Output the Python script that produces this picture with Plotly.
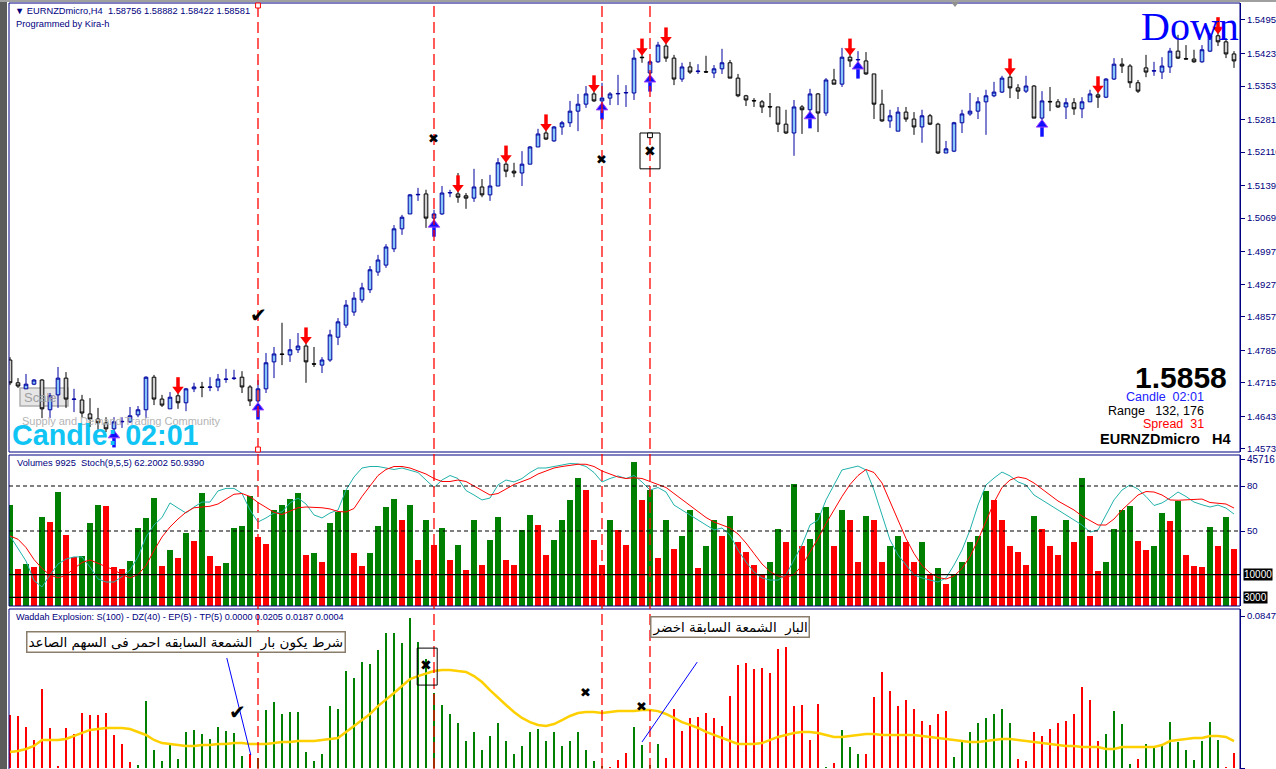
import plotly.graph_objects as go

W, H = 1276, 769

# ---------------- data ----------------
opens = [1.4764, 1.4715, 1.4702, 1.4712, 1.4721, 1.4657, 1.4689, 1.4725, 1.4679, 1.4678,
         1.4648, 1.4637, 1.4629, 1.4616, 1.4631, 1.4631, 1.4646, 1.4657, 1.4727, 1.4680,
         1.4659, 1.4687, 1.4672, 1.4702, 1.4706, 1.4705, 1.4706, 1.4722, 1.4724, 1.4727,
         1.4706, 1.4676, 1.4702, 1.4760, 1.4777, 1.4775, 1.4786, 1.4794, 1.4756, 1.4753,
         1.4764, 1.4813, 1.4839, 1.4867, 1.4893, 1.4915, 1.4953, 1.4968, 1.5003, 1.5046,
         1.5078, 1.5119, 1.5121, 1.5069, 1.5078, 1.5123, 1.5121, 1.5117, 1.5112, 1.5136,
         1.5119, 1.5138, 1.5185, 1.5170, 1.5166, 1.5185, 1.5222, 1.5252, 1.5235, 1.5265,
         1.5274, 1.5299, 1.5314, 1.5336, 1.5321, 1.5327, 1.5336, 1.5338, 1.5338, 1.5415,
         1.5381, 1.5405, 1.5439, 1.5413, 1.5368, 1.5394, 1.5384, 1.5384, 1.5381, 1.5390,
         1.5403, 1.5370, 1.5332, 1.5322, 1.5319, 1.5309, 1.5308, 1.5271, 1.5252, 1.5308,
         1.5302, 1.5336, 1.5295, 1.5366, 1.5357, 1.5415, 1.5409, 1.5407, 1.5379, 1.5314,
         1.5278, 1.5256, 1.5297, 1.5282, 1.5265, 1.5289, 1.5271, 1.5209, 1.5213, 1.5274,
         1.5293, 1.5299, 1.5319, 1.5332, 1.5340, 1.5372, 1.5349, 1.5342, 1.5353, 1.5284,
         1.5320, 1.5319, 1.5308, 1.5317, 1.5304, 1.5319, 1.5334, 1.5329, 1.5368, 1.5400,
         1.5396, 1.5360, 1.5392, 1.5385, 1.5383, 1.5394, 1.5428, 1.5412, 1.5411, 1.5405,
         1.5428, 1.5461, 1.5448, 1.5422]
highs = [1.4770, 1.4725, 1.4734, 1.4723, 1.4723, 1.4693, 1.4749, 1.4738, 1.4702, 1.4689,
         1.4682, 1.4661, 1.4641, 1.4641, 1.4641, 1.4663, 1.4665, 1.4729, 1.4732, 1.4689,
         1.4695, 1.4700, 1.4704, 1.4715, 1.4717, 1.4727, 1.4734, 1.4745, 1.4743, 1.4740,
         1.4710, 1.4721, 1.4779, 1.4792, 1.4844, 1.4809, 1.4822, 1.4809, 1.4792, 1.4770,
         1.4829, 1.4854, 1.4893, 1.4910, 1.4930, 1.4966, 1.4990, 1.5013, 1.5054, 1.5076,
         1.5121, 1.5134, 1.5130, 1.5087, 1.5138, 1.5130, 1.5166, 1.5123, 1.5175, 1.5153,
         1.5162, 1.5198, 1.5205, 1.5188, 1.5213, 1.5224, 1.5261, 1.5265, 1.5267, 1.5278,
         1.5321, 1.5336, 1.5353, 1.5360, 1.5360, 1.5340, 1.5377, 1.5355, 1.5431, 1.5452,
         1.5409, 1.5448, 1.5446, 1.5420, 1.5403, 1.5405, 1.5400, 1.5418, 1.5398, 1.5433,
         1.5409, 1.5379, 1.5334, 1.5327, 1.5323, 1.5338, 1.5308, 1.5302, 1.5323, 1.5312,
         1.5347, 1.5338, 1.5370, 1.5390, 1.5435, 1.5437, 1.5428, 1.5426, 1.5379, 1.5345,
         1.5302, 1.5308, 1.5308, 1.5297, 1.5302, 1.5293, 1.5274, 1.5235, 1.5276, 1.5302,
         1.5338, 1.5329, 1.5345, 1.5362, 1.5375, 1.5394, 1.5357, 1.5375, 1.5355, 1.5342,
         1.5351, 1.5325, 1.5327, 1.5327, 1.5329, 1.5345, 1.5351, 1.5370, 1.5413, 1.5413,
         1.5400, 1.5366, 1.5420, 1.5405, 1.5415, 1.5435, 1.5463, 1.5441, 1.5431, 1.5441,
         1.5467, 1.5480, 1.5456, 1.5428]
lows = [1.4710, 1.4704, 1.4702, 1.4710, 1.4639, 1.4639, 1.4661, 1.4661, 1.4652, 1.4639,
        1.4620, 1.4614, 1.4609, 1.4607, 1.4618, 1.4629, 1.4641, 1.4639, 1.4667, 1.4663,
        1.4659, 1.4659, 1.4654, 1.4695, 1.4684, 1.4697, 1.4697, 1.4715, 1.4721, 1.4693,
        1.4665, 1.4672, 1.4693, 1.4725, 1.4753, 1.4760, 1.4779, 1.4715, 1.4749, 1.4736,
        1.4760, 1.4796, 1.4833, 1.4859, 1.4887, 1.4908, 1.4945, 1.4962, 1.4996, 1.5033,
        1.5078, 1.5106, 1.5048, 1.5039, 1.5076, 1.5114, 1.5102, 1.5089, 1.5104, 1.5114,
        1.5106, 1.5138, 1.5157, 1.5157, 1.5138, 1.5185, 1.5222, 1.5237, 1.5233, 1.5248,
        1.5265, 1.5256, 1.5306, 1.5319, 1.5297, 1.5312, 1.5312, 1.5308, 1.5323, 1.5403,
        1.5372, 1.5403, 1.5405, 1.5355, 1.5362, 1.5379, 1.5379, 1.5381, 1.5370, 1.5379,
        1.5370, 1.5329, 1.5310, 1.5308, 1.5295, 1.5286, 1.5254, 1.5250, 1.5203, 1.5250,
        1.5295, 1.5254, 1.5289, 1.5357, 1.5351, 1.5394, 1.5403, 1.5377, 1.5282, 1.5276,
        1.5263, 1.5256, 1.5276, 1.5248, 1.5231, 1.5269, 1.5207, 1.5209, 1.5211, 1.5252,
        1.5289, 1.5282, 1.5248, 1.5329, 1.5338, 1.5327, 1.5325, 1.5338, 1.5284, 1.5280,
        1.5299, 1.5306, 1.5282, 1.5291, 1.5284, 1.5319, 1.5306, 1.5327, 1.5366, 1.5381,
        1.5349, 1.5338, 1.5372, 1.5375, 1.5368, 1.5381, 1.5411, 1.5411, 1.5403, 1.5403,
        1.5426, 1.5439, 1.5413, 1.5392]
closes = [1.4715, 1.4708, 1.4712, 1.4721, 1.4659, 1.4687, 1.4725, 1.4680, 1.4680, 1.4650,
          1.4637, 1.4629, 1.4616, 1.4631, 1.4632, 1.4644, 1.4657, 1.4727, 1.4680, 1.4667,
          1.4684, 1.4672, 1.4702, 1.4706, 1.4705, 1.4706, 1.4723, 1.4723, 1.4725, 1.4706,
          1.4676, 1.4702, 1.4758, 1.4777, 1.4776, 1.4786, 1.4794, 1.4760, 1.4755, 1.4764,
          1.4818, 1.4846, 1.4882, 1.4897, 1.4919, 1.4958, 1.4979, 1.5007, 1.5046, 1.5071,
          1.5119, 1.5120, 1.5069, 1.5078, 1.5123, 1.5124, 1.5114, 1.5112, 1.5136, 1.5119,
          1.5138, 1.5188, 1.5170, 1.5166, 1.5185, 1.5222, 1.5250, 1.5239, 1.5265, 1.5274,
          1.5299, 1.5314, 1.5336, 1.5321, 1.5327, 1.5336, 1.5337, 1.5339, 1.5413, 1.5414,
          1.5405, 1.5441, 1.5413, 1.5368, 1.5394, 1.5383, 1.5385, 1.5383, 1.5390, 1.5403,
          1.5370, 1.5332, 1.5323, 1.5321, 1.5308, 1.5308, 1.5271, 1.5252, 1.5308, 1.5302,
          1.5336, 1.5295, 1.5366, 1.5357, 1.5415, 1.5407, 1.5410, 1.5379, 1.5314, 1.5278,
          1.5289, 1.5297, 1.5282, 1.5265, 1.5289, 1.5271, 1.5209, 1.5218, 1.5274, 1.5293,
          1.5299, 1.5319, 1.5332, 1.5340, 1.5370, 1.5349, 1.5342, 1.5353, 1.5284, 1.5321,
          1.5319, 1.5308, 1.5317, 1.5304, 1.5319, 1.5336, 1.5329, 1.5368, 1.5400, 1.5396,
          1.5360, 1.5342, 1.5383, 1.5386, 1.5396, 1.5428, 1.5413, 1.5411, 1.5405, 1.5431,
          1.5461, 1.5448, 1.5422, 1.5407]

volumes = [31518, 11742, 13287, 12360, 27810, 26265, 35535, 22248, 15450, 15759,
           25956, 31518, 31209, 12360, 11742, 14214, 24411, 27501, 33681, 12669,
           17613, 15141, 22866, 20394, 35226, 15759, 12669, 13596, 24411, 25029,
           34299, 21630, 19467, 29973, 31518, 33372, 35226, 16068, 16686, 13905,
           25956, 29355, 36153, 16686, 12669, 16686, 25029, 30900, 33372, 26900,
           31500, 14500, 26900, 19200, 24400, 14500, 19200, 11400, 26900, 13000,
           20700, 27800, 14500, 13000, 23800, 28400, 25300, 16100, 20700, 26900,
           33100, 39900, 36200, 20700, 13000, 26900, 23800, 19200, 44800, 33100,
           36200, 15000, 27000, 18000, 22000, 30000, 12000, 19000, 27000, 22000,
           28000, 20000, 17000, 13000, 10000, 14000, 24000, 20000, 38000, 19000,
           21000, 29000, 31000, 19000, 30000, 27000, 14000, 28000, 27000, 14000,
           19000, 22000, 20000, 14000, 20000, 10000, 12000, 7000, 10000, 14000,
           20000, 22000, 36000, 33000, 27000, 19000, 17000, 13000, 28000, 24000,
           19000, 16000, 27000, 20000, 40000, 22000, 11000, 14000, 24000, 30000,
           31209, 20394, 17613, 18849, 29046, 26574, 32754, 16068, 12669, 12360,
           24720, 18849, 27810, 17922]

stoch_k = [46.7, 38, 30, 17, 12.7, 20.7, 28, 31.3, 32.7, 32.7,
           26, 18, 16, 16, 19.6, 24, 32.7, 46, 54, 59,
           68.7, 65.3, 62, 66, 69.3, 69.3, 76.7, 78.4, 78.4, 75,
           64, 56, 58.7, 62, 62.7, 68.7, 72, 68, 60.7, 58.7,
           62, 64, 77.3, 86, 92, 93, 93, 92, 91, 92,
           90.7, 89, 84, 79, 84, 87, 85, 77, 74, 70.7,
           72, 80.7, 84, 82.7, 85, 89, 92, 92, 93, 94,
           95, 94.7, 93, 89, 82.7, 85, 86.7, 85, 87, 82.7,
           77.3, 79, 76, 67.3, 64, 60.7, 57.3, 54, 50.7, 52,
           47.3, 37.3, 29.3, 22.7, 18.7, 17.3, 17.3, 20.7, 30.7, 40.7,
           54, 57.3, 70.7, 80.7, 90.7, 92, 93.3, 90.7, 77.3, 60.7,
           44, 34, 27.3, 20.7, 18.7, 17.3, 16, 18.7, 27.3, 37.3,
           50.7, 67.3, 80.7, 85.3, 89.3, 86.7, 82.7, 80.7, 74, 70.7,
           67.3, 64, 60.7, 57.3, 54, 49.3, 50.7, 60.7, 70.7, 77.3,
           80.7, 78, 73, 67, 68.7, 72, 76, 73, 69.3, 67.5,
           66, 67.3, 65.3, 61.3]
stoch_d = [46.7, 44.5, 39, 31, 25, 20.7, 18.7, 20.5, 25, 29,
           30.7, 28.5, 26, 24, 21, 18.7, 21, 27, 37, 46,
           52.7, 58, 62.5, 65.5, 66, 66.5, 68, 71, 74.5, 75,
           73, 69, 66, 62.5, 61, 63, 65.5, 66, 66, 65.5,
           64.7, 63, 62.7, 65, 73, 80, 87, 91, 93, 93,
           92, 90, 88, 85, 83, 83, 84, 83, 80, 77,
           74, 75, 78, 81, 83, 85, 88, 90, 92, 93,
           94, 94.5, 94.5, 93, 90, 88, 86, 85, 85.5, 85,
           83, 81, 79, 75, 71, 67, 63, 59, 56, 54,
           52, 48, 42, 35, 28, 23, 20, 19, 21, 27,
           36, 45, 55, 64, 73, 81, 87, 91, 89, 82,
           70, 57, 45, 35, 27, 22, 19, 18, 20, 25,
           33, 44, 57, 69, 79, 84, 86, 85, 82, 78,
           74, 70, 67, 64, 60, 57, 54, 54, 58, 64,
           69.3, 74, 76.3, 76, 74, 70.7, 70.5, 70.8, 71, 71.3,
           69, 68.5, 68, 65.3]

# Waddah Attar Explosion: trend value (+ = up / green, - = down / red) and explosion line
wae_trend = [-0.0295, -0.0290, -0.0228, -0.0156, -0.0440, -0.0223, -0.0011, -0.0223, -0.0189, -0.0306,
             -0.0295, -0.0295, -0.0306, -0.0184, -0.0134, -0.0033, 0.0017, 0.0373, 0.0100, 0.0039,
             0.0134, 0.0050, 0.0201, 0.0212, 0.0189, 0.0162, 0.0228, 0.0206, 0.0195, 0.0067,
             -0.0078, 0.0056, 0.0323, 0.0368, 0.0301, 0.0312, 0.0312, 0.0089, 0.0039, 0.0078,
             0.0345, 0.0329, 0.0540, 0.0501, 0.0590, 0.0579, 0.0657, 0.0752, 0.0752, 0.0696,
             0.0836, 0.0700, 0.0610, 0.0420, 0.0350, 0.0300, 0.0250, 0.0150, 0.0200, 0.0100,
             0.0180, 0.0250, 0.0150, 0.0080, 0.0120, 0.0200, 0.0220, 0.0150, 0.0200, 0.0120,
             0.0150, 0.0200, 0.0100, 0.0040, 0.0006, -0.0003, -0.0045, -0.0084, 0.0228, 0.0128,
             0.0017, 0.0134, -0.0056, -0.0329, -0.0206, -0.0279, -0.0284, -0.0306, -0.0279, -0.0234,
             -0.0401, -0.0574, -0.0585, -0.0551, -0.0557, -0.0529, -0.0663, -0.0674, -0.0345, -0.0351,
             -0.0156, -0.0356, 0.0004, -0.0028, 0.0212, 0.0117, 0.0078, -0.0078, -0.0395, -0.0535,
             -0.0429, -0.0345, -0.0380, -0.0330, -0.0260, -0.0240, -0.0300, -0.0320, 0.0060, 0.0150,
             0.0200, 0.0250, 0.0280, 0.0300, 0.0330, 0.0250, -0.0050, -0.0040, -0.0200, -0.0180,
             -0.0220, -0.0250, -0.0260, -0.0300, -0.0450, -0.0380, -0.0150, 0.0189, 0.0317, 0.0245,
             0.0022, -0.0050, 0.0134, 0.0123, 0.0128, 0.0256, 0.0145, 0.0100, 0.0045, 0.0150,
             0.0256, 0.0156, -0.0003, -0.0084]
wae_explosion = [0.0089, 0.0095, 0.0106, 0.0123, 0.0156, 0.0156, 0.0156, 0.0162, 0.0178, 0.0195,
                 0.0212, 0.0217, 0.0223, 0.0223, 0.0223, 0.0217, 0.0201, 0.0184, 0.0156, 0.0139,
                 0.0134, 0.0128, 0.0123, 0.0123, 0.0128, 0.0128, 0.0134, 0.0134, 0.0139, 0.0139,
                 0.0134, 0.0134, 0.0134, 0.0139, 0.0145, 0.0145, 0.0150, 0.0150, 0.0150, 0.0156,
                 0.0162, 0.0167, 0.0201, 0.0234, 0.0267, 0.0301, 0.0345, 0.0379, 0.0418, 0.0457,
                 0.0496, 0.0512, 0.0524, 0.0540, 0.0546, 0.0546, 0.0540, 0.0535, 0.0512, 0.0479,
                 0.0434, 0.0390, 0.0351, 0.0312, 0.0279, 0.0256, 0.0240, 0.0234, 0.0245, 0.0267,
                 0.0290, 0.0306, 0.0312, 0.0312, 0.0306, 0.0312, 0.0317, 0.0317, 0.0317, 0.0323,
                 0.0323, 0.0317, 0.0301, 0.0279, 0.0256, 0.0240, 0.0223, 0.0201, 0.0184, 0.0167,
                 0.0150, 0.0134, 0.0134, 0.0134, 0.0139, 0.0156, 0.0173, 0.0184, 0.0195, 0.0201,
                 0.0201, 0.0195, 0.0184, 0.0173, 0.0173, 0.0178, 0.0184, 0.0189, 0.0189, 0.0184,
                 0.0184, 0.0184, 0.0184, 0.0184, 0.0178, 0.0173, 0.0167, 0.0162, 0.0156, 0.0150,
                 0.0145, 0.0145, 0.0150, 0.0156, 0.0162, 0.0162, 0.0156, 0.0150, 0.0145, 0.0139,
                 0.0134, 0.0128, 0.0123, 0.0123, 0.0117, 0.0117, 0.0117, 0.0106, 0.0106, 0.0117,
                 0.0117, 0.0117, 0.0117, 0.0117, 0.0128, 0.0150, 0.0156, 0.0162, 0.0167, 0.0167,
                 0.0178, 0.0178, 0.0173, 0.0150]

sell_signals = [21, 37, 56, 62, 67, 73, 79, 82, 105, 125, 136, 151]
buy_signals = [13, 31, 53, 74, 80, 100, 106, 129]
marked_bars = [31, 53, 74, 80]

price_ticks = [1.5495, 1.5423, 1.5353, 1.5281, 1.5211, 1.5139, 1.5069,
               1.4997, 1.4927, 1.4857, 1.4785, 1.4715, 1.4643, 1.4573]
volume_top_label = 45716
volume_levels = [10000, 3000]
stoch_levels = [80, 50]
wae_ticks = [0.0847, 0.0]

# ---------------- layout geometry (pixels) ----------------
PL, PR = 9, 1240                     # plot left / right
P_TOP, P_BOT = 3, 452                # price pane
V_TOP, V_BOT = 455, 606              # volume / stoch pane
E_TOP, E_BOT = 609, 769              # waddah pane
price_range = [1.45662, 1.55315]
vol_range = [309, 46968]
stoch_range = [0, 100.67]
wae_range = [-0.00056, 0.0886]
x_range = [-0.125, 153.75]
NAVY = '#000080'


def PX(x):
    return x / W


def PY(y):
    return 1 - y / H


bars = list(range(len(opens)))
ppx = (price_range[1] - price_range[0]) / (P_BOT - P_TOP)   # price per pixel

fig = go.Figure()

# candles
fig.add_trace(go.Candlestick(
    x=bars, open=opens, high=highs, low=lows, close=closes,
    increasing=dict(line=dict(color='#0000A0', width=1), fillcolor='#86C5F7'),
    decreasing=dict(line=dict(color='#000000', width=1), fillcolor='#D0D0D0'),
    whiskerwidth=0, hoverinfo='skip', showlegend=False, xaxis='x', yaxis='y'))

# signal arrows
sell_tip = [max(opens[i], closes[i]) + 3 * ppx for i in sell_signals]
buy_tip = [min(opens[i], closes[i]) - 3 * ppx for i in buy_signals]
fig.add_trace(go.Scatter(x=sell_signals, y=[t + 10 * ppx for t in sell_tip], mode='markers',
                         marker=dict(symbol='line-ns', size=8, line=dict(color='#FF0000', width=3.5)),
                         hoverinfo='skip', showlegend=False))
fig.add_trace(go.Scatter(x=sell_signals, y=[t + 3.5 * ppx for t in sell_tip], mode='markers',
                         marker=dict(symbol='triangle-down', size=10, color='#FF0000', line=dict(width=0)),
                         hoverinfo='skip', showlegend=False))
fig.add_trace(go.Scatter(x=buy_signals, y=[t - 10 * ppx for t in buy_tip], mode='markers',
                         marker=dict(symbol='line-ns', size=8, line=dict(color='#1010FF', width=3.5)),
                         hoverinfo='skip', showlegend=False))
fig.add_trace(go.Scatter(x=buy_signals, y=[t - 3.5 * ppx for t in buy_tip], mode='markers',
                         marker=dict(symbol='triangle-up', size=10, color='#1010FF',
                                     line=dict(color='#A040FF', width=1)),
                         hoverinfo='skip', showlegend=False))

# volumes (green when above previous bar, red otherwise)
vol_colors = ['#008000' if i == 0 or volumes[i] > volumes[i - 1] else '#FF0000' for i in bars]
fig.add_trace(go.Bar(x=bars, y=volumes, marker=dict(color=vol_colors, line=dict(width=0)),
                     width=0.85, xaxis='x2', yaxis='y2', hoverinfo='skip', showlegend=False))
fig.add_trace(go.Scatter(x=bars, y=stoch_k, mode='lines', line=dict(color='#20B2AA', width=1),
                         xaxis='x2', yaxis='y3', hoverinfo='skip', showlegend=False))
fig.add_trace(go.Scatter(x=bars, y=stoch_d, mode='lines', line=dict(color='#FF0000', width=1),
                         xaxis='x2', yaxis='y3', hoverinfo='skip', showlegend=False))

# waddah explosion
wae_colors = ['#008000' if v > 0 else '#FF0000' for v in wae_trend]
fig.add_trace(go.Bar(x=bars, y=[abs(v) for v in wae_trend], marker=dict(color=wae_colors, line=dict(width=0)),
                     width=0.3, xaxis='x3', yaxis='y4', hoverinfo='skip', showlegend=False))
fig.add_trace(go.Scatter(x=bars, y=wae_explosion, mode='lines', line=dict(color='#FFD000', width=2.5),
                         xaxis='x3', yaxis='y4', hoverinfo='skip', showlegend=False))

shapes = []
# window chrome
shapes.append(dict(type='rect', xref='paper', yref='paper', x0=0, x1=PX(7), y0=0, y1=1,
                   fillcolor='#5c5c5c', line=dict(width=0), layer='below'))
shapes.append(dict(type='rect', xref='paper', yref='paper', x0=0, x1=1, y0=PY(2), y1=1,
                   fillcolor='#a0a0a0', line=dict(width=0), layer='below'))
# scale button
shapes.append(dict(type='rect', xref='paper', yref='paper', x0=PX(20), x1=PX(68), y0=PY(406), y1=PY(388),
                   fillcolor='#e6e6e6', line=dict(color='#b0b0b0', width=1.5), layer='below'))
# pane frames
for top, bot in [(P_TOP, P_BOT), (V_TOP, V_BOT), (E_TOP, E_BOT + 2)]:
    shapes.append(dict(type='rect', xref='paper', yref='paper', x0=PX(PL), x1=PX(PR),
                       y0=PY(bot), y1=PY(top), line=dict(color=NAVY, width=1)))
# stoch levels
for lv in stoch_levels:
    shapes.append(dict(type='line', xref='paper', yref='y3', x0=PX(PL), x1=PX(PR), y0=lv, y1=lv,
                       line=dict(color='#000000', width=1, dash='4px,3px')))
# volume levels
for lv in volume_levels:
    shapes.append(dict(type='line', xref='paper', yref='y2', x0=PX(PL), x1=PX(PR), y0=lv, y1=lv,
                       line=dict(color='#000000', width=1.2)))
# red signal verticals
for b in marked_bars:
    shapes.append(dict(type='line', xref='x', yref='paper', x0=b, x1=b, y0=0, y1=PY(P_TOP),
                       line=dict(color='#FF0000', width=1.3, dash='11px,5px')))
for y0, y1 in [(3, 8), (447, 452)]:
    shapes.append(dict(type='rect', xref='x', yref='paper', x0=marked_bars[0] - 0.3, x1=marked_bars[0] + 0.3,
                       y0=PY(y1), y1=PY(y0), line=dict(color='#FF0000', width=1), fillcolor='white'))
# boxes around crosses
shapes.append(dict(type='rect', xref='x', yref='y', x0=78.75, x1=81.25, y0=1.5175, y1=1.5252,
                   line=dict(color='#000000', width=1)))
shapes.append(dict(type='rect', xref='x', yref='y', x0=79.7, x1=80.3, y0=1.5242, y1=1.5252,
                   line=dict(color='#000000', width=1), fillcolor='white'))
shapes.append(dict(type='rect', xref='x', yref='y4', x0=50.9, x1=53.4, y0=0.0462, y1=0.0668,
                   line=dict(color='#000000', width=1)))
# blue leader lines from the notes
shapes.append(dict(type='line', xref='x', yref='y4', x0=27.1, y0=0.0613, x1=30.1, y1=0.0072,
                   line=dict(color='#0000FF', width=1)))
shapes.append(dict(type='line', xref='x', yref='y4', x0=85.9, y0=0.0590, x1=79.0, y1=0.0145,
                   line=dict(color='#0000FF', width=1)))
# chart-shift triangle
shapes.append(dict(type='path', xref='paper', yref='paper',
                   path=f'M {PX(951)} {PY(2)} L {PX(959)} {PY(2)} L {PX(955)} {PY(7)} Z',
                   fillcolor='#909090', line=dict(width=0)))

ann = []


def text(x, y, s, size, color='#000000', anchor='left', family='Liberation Sans', bold=False, **kw):
    if bold:
        s = f'<b>{s}</b>'
    ann.append(dict(xref='paper', yref='paper', x=PX(x), y=PY(y), text=s, showarrow=False,
                    xanchor=anchor, yanchor='middle', font=dict(size=size, color=color, family=family), **kw))


text(13, 11, '▼ EURNZDmicro,H4  1.58756 1.58882 1.58422 1.58581', 9.3, NAVY)
text(14, 24, 'Programmed by Kira-h', 9.3, NAVY)
text(1241, 27, 'Down', 40, '#0000FF', anchor='right', family='Liberation Serif')
text(1229, 377, '1.5858', 30, '#000000', anchor='right', bold=True)
text(1206, 397, 'Candle&nbsp;&nbsp;02:01', 12.5, '#2020FF', anchor='right')
text(1206, 411, 'Range&nbsp;&nbsp;&nbsp;132, 176', 12.5, '#000000', anchor='right')
text(1206, 424, 'Spread&nbsp;&nbsp;31', 12.5, '#FF0000', anchor='right')
text(1233, 439, 'EURNZDmicro&nbsp;&nbsp;&nbsp;H4', 14.5, '#000000', anchor='right', bold=True)
text(22, 397, 'Scale', 13, '#a0a0a0')
text(20, 421, 'Supply and Demand Trading Community', 11, '#b4b4b4')
text(10, 435, 'Candle: 02:01', 28.7, '#10C4F4', bold=True)
text(15, 463, 'Volumes 9925  Stoch(9,5,5) 62.2002 50.9390', 9.3, NAVY)
text(14, 617, 'Waddah Explosion: S(100) - DZ(40) - EP(5) - TP(5) 0.0000 0.0205 0.0187 0.0004', 9.1, NAVY)
# white-on-black level labels
for lv in volume_levels:
    ann.append(dict(xref='paper', yref='y2', x=PX(1243), y=lv, text=str(lv), showarrow=False,
                    xanchor='left', yanchor='middle', bgcolor='#000000', borderpad=0,
                    font=dict(size=10, color='#FFFFFF', family='Liberation Sans')))
# notes
ann.append(dict(xref='paper', yref='paper', x=PX(186), y=PY(642),
                text='شرط يكون بار  الشمعة السابقه احمر فى السهم الصاعد', showarrow=False,
                xanchor='center', yanchor='middle', bgcolor='#FFFFFF', bordercolor='#8B7D6B',
                borderwidth=1.5, borderpad=1, font=dict(size=13.5, color='#000000', family='DejaVu Sans')))
ann.append(dict(xref='paper', yref='paper', x=PX(730), y=PY(627),
                text='البار  الشمعة السابقة اخضر', showarrow=False,
                xanchor='center', yanchor='middle', bgcolor='#FFFFFF', bordercolor='#8B7D6B',
                borderwidth=1.5, borderpad=1, font=dict(size=13.5, color='#000000', family='DejaVu Sans')))
# ticks / crosses
marks = [('✔', 'x', 'y', 31, 1.4861, 20), ('✖', 'x', 'y', 52.9, 1.5241, 13),
         ('✖', 'x', 'y', 73.9, 1.5194, 13), ('✖', 'x', 'y', 80, 1.5213, 14),
         ('✔', 'x', 'y4', 28.4, 0.0312, 20), ('✖', 'x', 'y4', 52, 0.0574, 14),
         ('✖', 'x', 'y4', 71.9, 0.0418, 13), ('✖', 'x', 'y4', 78.9, 0.0345, 13)]
for s, xr, yr, xv, yv, sz in marks:
    ann.append(dict(xref=xr, yref=yr, x=xv, y=yv, text=s, showarrow=False,
                    font=dict(size=sz, color='#000000', family='DejaVu Sans')))

axis_common = dict(showgrid=False, zeroline=False)
yfont = dict(size=9.5, color=NAVY, family='Liberation Sans')
fig.update_layout(
    width=W, height=H, margin=dict(l=0, r=0, t=0, b=0),
    paper_bgcolor='white', plot_bgcolor='white', showlegend=False, bargap=0, boxgap=0.35,
    xaxis=dict(domain=[PX(PL), PX(PR)], range=x_range, anchor='y', visible=False,
               rangeslider=dict(visible=False), **axis_common),
    xaxis2=dict(domain=[PX(PL), PX(PR)], range=x_range, anchor='y2', matches='x', visible=False, **axis_common),
    xaxis3=dict(domain=[PX(PL), PX(PR)], range=x_range, anchor='y4', matches='x', visible=False, **axis_common),
    yaxis=dict(domain=[PY(P_BOT), PY(P_TOP)], range=price_range, side='right', anchor='x',
               tickvals=price_ticks, ticktext=[f'{v:.5f}' for v in price_ticks],
               ticks='outside', ticklen=4, tickcolor=NAVY, showline=True, linecolor=NAVY,
               tickfont=yfont, automargin=False, **axis_common),
    yaxis2=dict(domain=[PY(V_BOT), PY(V_TOP)], range=vol_range, side='right', anchor='x2',
                tickvals=[volume_top_label], ticktext=[str(volume_top_label)],
                ticks='outside', ticklen=4, tickcolor=NAVY, showline=True, linecolor=NAVY,
                tickfont=dict(size=10, color=NAVY, family='Liberation Sans'), automargin=False,
                **axis_common),
    yaxis3=dict(range=stoch_range, overlaying='y2', side='right', anchor='x2',
                tickvals=stoch_levels, ticktext=[str(v) for v in stoch_levels],
                ticks='outside', ticklen=4, tickcolor=NAVY, tickfont=yfont, automargin=False, **axis_common),
    yaxis4=dict(domain=[0, PY(E_TOP)], range=wae_range, side='right', anchor='x3',
                tickvals=wae_ticks, ticktext=['0.0847', '0'],
                ticks='outside', ticklen=4, tickcolor=NAVY, showline=True, linecolor=NAVY,
                tickfont=yfont, automargin=False, **axis_common),
    shapes=shapes, annotations=ann,
)

fig.write_html("out.html", config={'displayModeBar': False},
               post_script="document.body.style.margin='0';document.body.style.overflow='hidden';")
